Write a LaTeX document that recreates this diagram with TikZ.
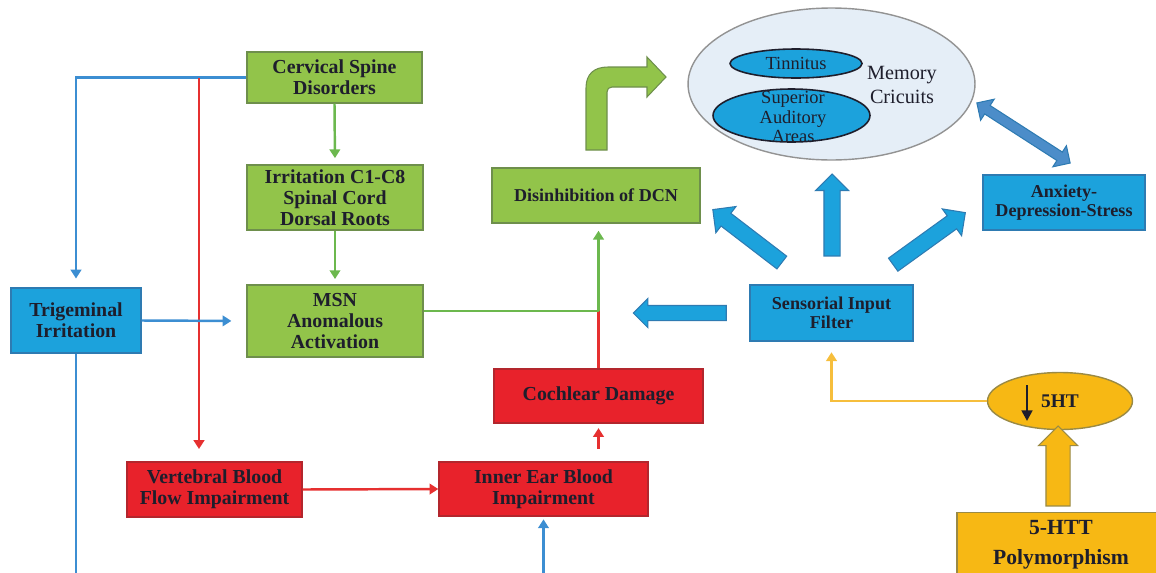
\documentclass[tikz,border=0pt]{standalone}
\usepackage{fontspec}
\setmainfont{Liberation Serif}
\usetikzlibrary{shapes.geometric,shapes.arrows,arrows.meta}

\definecolor{grn}{HTML}{92C44A}
\definecolor{grnline}{HTML}{6E8F4C}
\definecolor{blu}{HTML}{1CA2DC}
\definecolor{bluline}{HTML}{2E7BB2}
\definecolor{rd}{HTML}{E8222B}
\definecolor{rdline}{HTML}{B3262D}
\definecolor{ylw}{HTML}{F7B814}
\definecolor{ylwline}{HTML}{9A8A45}
\definecolor{dblu}{HTML}{4C8DC9}
\definecolor{conblue}{HTML}{3C8ED2}
\definecolor{conred}{HTML}{E63030}
\definecolor{congreen}{HTML}{6CB84E}
\definecolor{conyellow}{HTML}{F6BE3C}
\definecolor{memfill}{HTML}{E5EEF7}
\definecolor{txt}{HTML}{1E1E2C}

\tikzset{
  box/.style={rectangle, draw=#1line, fill=#1, line width=0.8pt, inner sep=0pt,
    align=center, text=txt, font=\bfseries\fontsize{11.3}{12}\selectfont},
  small/.style={font=\bfseries\fontsize{10.3}{10.5}\selectfont},
  conn/.style={draw=#1, line width=1.4pt, -{Triangle[width=6pt,length=5pt]}},
  line/.style={draw=#1, line width=1.4pt},
  blockarrow/.style={single arrow, fill=blu, draw=bluline, line width=0.6pt, inner xsep=0pt,
    inner ysep=0.15cm, single arrow head extend=0.17cm}
}

\begin{document}
\begin{tikzpicture}[x=0.02cm, y=-0.02cm]
\useasboundingbox (0,0) rectangle (1156,572);

% boxes
\node[box=grn, minimum width=3.5cm, minimum height=1.02cm] (csd) at (334.5,77.5) {Cervical Spine\\Disorders};
\node[box=grn, minimum width=3.52cm, minimum height=1.3cm] (irr) at (335,197.5) {Irritation C1-C8\\Spinal Cord\\Dorsal Roots};
\node[box=grn, minimum width=3.52cm, minimum height=1.44cm] (msn) at (335,321) {MSN\\Anomalous\\Activation};
\node[box=blu, minimum width=2.6cm, minimum height=1.3cm] (tri) at (76,320.5) {Trigeminal\\Irritation};
\node[box=rd, minimum width=3.5cm, minimum height=1.1cm] (vbf) at (214.5,489.5) {Vertebral Blood\\Flow Impairment};
\node[box=rd, minimum width=4.18cm, minimum height=1.08cm] (ieb) at (543.5,489) {Inner Ear Blood\\Impairment};
\node[box=rd, minimum width=4.18cm, minimum height=1.08cm] (cod) at (598.5,396) {Cochlear Damage};
\node[box=grn, small, minimum width=4.16cm, minimum height=1.1cm] (dcn) at (596,195.5) {Disinhibition of DCN};
\node[box=blu, small, minimum width=3.26cm, minimum height=1.12cm] (sif) at (831.5,313) {Sensorial Input\\Filter};
\node[box=blu, small, minimum width=3.24cm, minimum height=1.1cm] (ads) at (1064,202.5) {Anxiety-\\Depression-Stress};
\node[box=ylw, minimum width=4.16cm, minimum height=1.3cm, font=\bfseries\fontsize{12.3}{17}\selectfont] (htt) at (1061,545) {5-HTT\\Polymorphism};

% memory circuits
\node[ellipse, draw=gray!85, fill=memfill, line width=0.8pt, minimum width=5.74cm, minimum height=3.04cm] (mem) at (831.5,84) {};
\node[align=center, text=txt, font=\fontsize{11.5}{13.5}\selectfont] (memtxt) at (902,85) {Memory\\Cricuits};
\node[ellipse, draw=txt, fill=blu, line width=0.9pt, inner sep=0pt, minimum width=2.64cm, minimum height=0.58cm,
  text=txt, font=\fontsize{10.5}{11}\selectfont] (tin) at (796,63.5) {Tinnitus};
\node[ellipse, draw=txt, fill=blu, line width=0.9pt, inner sep=0pt, minimum width=3.14cm, minimum height=1.06cm] (saa) at (791.5,115.5) {};
\node[align=center, text=txt, font=\fontsize{10.5}{11.3}\selectfont] (saatxt) at (793,117) {Superior\\Auditory\\Areas};

% serotonin
\node[ellipse, draw=ylwline, fill=ylw, line width=0.8pt, minimum width=2.9cm, minimum height=1.14cm,
  text=txt, font=\bfseries\fontsize{11}{12}\selectfont] (ht) at (1060,401) {5HT};
\draw[txt, line width=1.6pt, -{Triangle[width=6pt,length=6pt]}] (1027,385) -- (1027,421);

% thin connectors
\coordinate (rt) at (199,77.5);
\coordinate (tb) at (76,576);
\coordinate (ib) at (543.5,576);
\coordinate (mj) at (598.5,311);
\draw[conn=conblue, shorten >=5pt] (csd.west) -| (tri.north);
\draw[conn=conred, shorten >=7pt] (rt) -- (rt |- vbf.north);
\draw[conn=congreen, shorten >=3.5pt] (csd.south) -- (irr.north);
\draw[conn=congreen, shorten >=3pt] (irr.south) -- (msn.north);
\draw[conn=conblue, shorten >=8.5pt] (tri.east) -- (msn.west);
\draw[line=conblue] (tri.south) -- (tb);
\draw[conn=conblue, shorten >=1.5pt] (ib) -- (ieb.south);
\draw[conn=conred] (vbf.east) -- (ieb.west);
\draw[conn=conred, shorten <=7pt, shorten >=2.5pt] (cod.south |- ieb.north) -- (cod.south);
\draw[line=conred] (cod.north) -- (mj);
\draw[conn=congreen, shorten >=4pt] (mj) -- (mj |- dcn.south);
\draw[line=congreen] (msn.east |- mj) -- (mj);
\draw[conn=conyellow, shorten >=6pt] (ht.west) -| (sif.south);

% block arrows
\node[blockarrow, minimum height=1.86cm, inner ysep=0.14cm, single arrow head extend=0.14cm, rotate=180] (bleft) at (683.5,313) {};
\node[blockarrow, minimum height=1.74cm, rotate=142.5] (bdcn) at (750.5,238.5) {};
\node[blockarrow, minimum height=1.64cm, rotate=90] (bmem) at (832,219) {};
\node[blockarrow, minimum height=1.78cm, rotate=35.8] (bads) at (926,241) {};
\node[double arrow, fill=dblu, draw=bluline, line width=0.6pt, inner xsep=0pt, inner ysep=0.09cm, minimum height=2.22cm,
  double arrow head extend=0.15cm, rotate=-32.8] (bmad) at (1023.5,133) {};
\node[single arrow, fill=ylw, draw=ylwline, line width=0.6pt, inner xsep=0pt, inner ysep=0.23cm, minimum height=1.6cm,
  single arrow head extend=0.15cm, rotate=90] (bht) at (1058,472) {};
\filldraw[fill=grn, draw=grnline, line width=0.6pt] (586,150) -- (586,88) .. controls (586,74) and (594,67) .. (608,67)
  -- (647,67) -- (647,57) -- (666,77) -- (647,97) -- (647,87) -- (612,87)
  .. controls (609,87) and (607,89) .. (607,92) -- (607,150) -- cycle;
\end{tikzpicture}
\end{document}
